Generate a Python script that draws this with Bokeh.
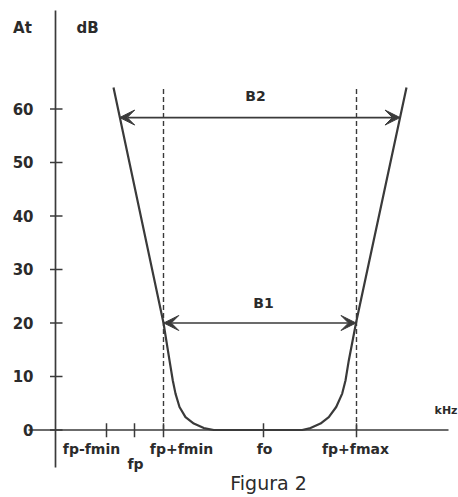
from bokeh.plotting import figure
from bokeh.models import ColumnDataSource, Range1d, Arrow, VeeHead
from bokeh.core.properties import value
from bokeh.embed import file_html
from bokeh.resources import INLINE

# ---------------- data ----------------
# attenuation (dB) ticks on vertical axis
y_ticks = [0, 10, 20, 30, 40, 50, 60]
y_tick_labels = ["0", "10", "20", "30", "40", "50", "60"]

# frequency axis ticks (arbitrary frequency units) and their labels
x_ticks = [5.1, 7.9, 10.8, 20.8, 30.1]
x_tick_labels = ["fp-fmin", "fp", "fp+fmin", "fo", "fp+fmax"]
x_label_x = [3.6, 8.0, 12.6, 20.9, 30.0]
x_label_y = [-3.5, -6.3, -3.5, -3.5, -3.5]

# filter attenuation curve (frequency, dB)
curve_f = [5.8, 10.8, 11.4, 11.73, 12.0, 12.4, 13.0, 13.83, 14.83, 15.83,
           24.67, 25.5, 26.5, 27.33, 28.07, 28.67, 29.0, 29.33, 30.05, 35.1]
curve_db = [64.0, 20.0, 13.0, 9.25, 6.8, 4.3, 2.4, 1.2, 0.35, 0.0,
            0.0, 0.35, 1.2, 2.4, 4.3, 6.8, 9.25, 13.0, 20.0, 64.0]

# band edges (dashed verticals): fp+fmin and fp+fmax
edge_f = [10.8, 30.1]
edge_top = [63.8, 63.8]

# bandwidth arrows
band_names = ["B2", "B1"]
band_level = [58.4, 20.0]
band_start = [6.42, 10.83]
band_end = [34.45, 30.05]

# axis extents
y_axis_span = [-7.0, 78.4]
x_axis_span = [-2.7, 39.3]

LINE = "#3a3a3a"
TEXT = "#2b2b2b"
FONT = "DejaVu Sans"

p = figure(width=458, height=497,
           x_range=Range1d(-5.5, 40.3), y_range=Range1d(-12.62, 80.28),
           output_backend="svg", toolbar_location=None,
           x_axis_type=None, y_axis_type=None, min_border=0)
p.outline_line_color = None
p.background_fill_color = "white"
p.border_fill_color = "white"

# axes lines
p.segment(x0=[0], y0=[y_axis_span[0]], x1=[0], y1=[y_axis_span[1]],
          line_color=LINE, line_width=1.7)
p.segment(x0=[x_axis_span[0]], y0=[0], x1=[x_axis_span[1]], y1=[0],
          line_color=LINE, line_width=1.7)

# y ticks
p.segment(x0=[-0.55] * len(y_ticks), y0=y_ticks, x1=[0.7] * len(y_ticks), y1=y_ticks,
          line_color=LINE, line_width=1.5)
p.text(x=[-2.2] * len(y_ticks), y=y_ticks, text=y_tick_labels,
       text_font=value(FONT), text_font_style="bold", text_font_size="15px",
       text_color=TEXT, text_align="right", text_baseline="middle")

# x ticks
p.segment(x0=x_ticks, y0=[-1.35] * len(x_ticks), x1=x_ticks, y1=[1.25] * len(x_ticks),
          line_color=LINE, line_width=1.5)
p.text(x=x_label_x, y=x_label_y, text=x_tick_labels,
       text_font=value(FONT), text_font_style="bold", text_font_size="14px",
       text_color=TEXT, text_align="center", text_baseline="middle")

# dashed band edges
p.segment(x0=edge_f, y0=[0, 0], x1=edge_f, y1=edge_top,
          line_color=LINE, line_width=1.4, line_dash="5 3")

# curve
p.line(curve_f, curve_db, line_color=LINE, line_width=2.2, line_join="round")

# arrows
src = ColumnDataSource(dict(x0=band_start, x1=band_end, y=band_level))
p.add_layout(Arrow(source=src, x_start="x0", y_start="y", x_end="x1", y_end="y",
                   line_color=LINE, line_width=1.7,
                   start=VeeHead(size=15, fill_color=LINE, line_color=LINE, line_width=1),
                   end=VeeHead(size=15, fill_color=LINE, line_color=LINE, line_width=1)))
p.text(x=[20.0, 20.8], y=[61.0, 22.3], text=band_names,
       text_font=value(FONT), text_font_style="bold", text_font_size="14px",
       text_color=TEXT, text_align="center", text_baseline="bottom")

# axis titles
p.text(x=[-3.3, 3.2], y=[75.2, 75.2], text=["At", "dB"],
       text_font=value(FONT), text_font_style="bold", text_font_size="15px",
       text_color=TEXT, text_align="center", text_baseline="middle")
p.text(x=[40.2], y=[3.6], text=["kHz"],
       text_font=value(FONT), text_font_style="bold", text_font_size="11px",
       text_color=TEXT, text_align="right", text_baseline="middle")

# caption
p.text(x=[21.3], y=[-10.0], text=["Figura 2"],
       text_font=value(FONT), text_font_size="19px",
       text_color=TEXT, text_align="center", text_baseline="middle")

open("out.html", "w").write(file_html(p, INLINE))
